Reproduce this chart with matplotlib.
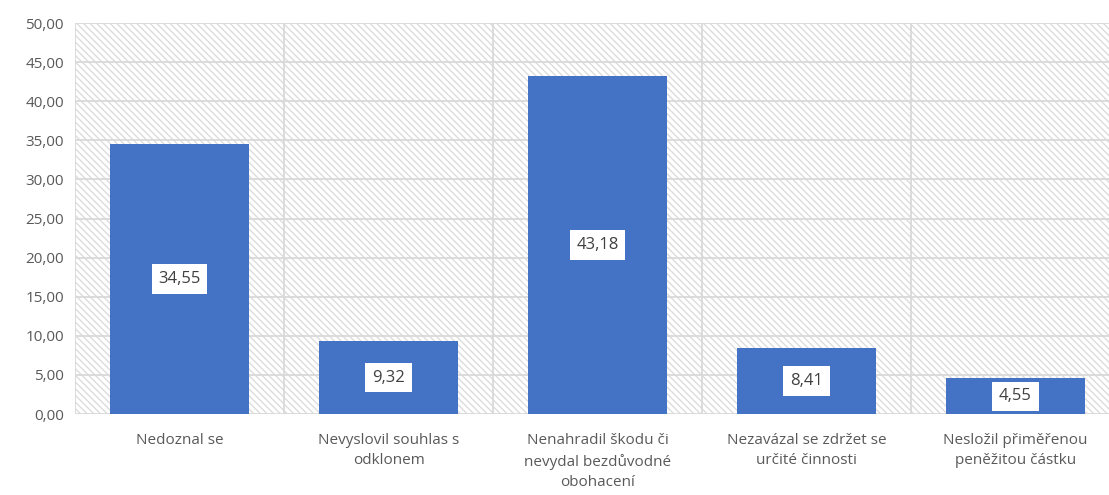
import matplotlib.pyplot as plt
from matplotlib.patches import Rectangle
import numpy as np

plt.rcParams['font.family'] = ['Open Sans', 'DejaVu Sans']
plt.rcParams['hatch.color'] = '#d9d9d9'
plt.rcParams['hatch.linewidth'] = 1.0

# data
categories = ['Nedoznal se', 'Nevyslovil souhlas s\nodklonem',
              'Nenahradil škodu či\nnevydal bezdůvodné\nobohacení',
              'Nezavázal se zdržet se\nurčité činnosti',
              'Nesložil přiměřenou\npeněžitou částku']
values = [34.55, 9.32, 43.18, 8.41, 4.55]
yticks = [0, 5, 10, 15, 20, 25, 30, 35, 40, 45, 50]

fig = plt.figure(figsize=(11.09, 4.95), dpi=100)
W, H = 1109, 495
left, right, top, bottom = 75, 1120, 23, 414
ax = fig.add_axes([left / W, (H - bottom) / H, (right - left) / W, (bottom - top) / H])

x = np.arange(len(categories))
ax.set_xlim(-0.5, len(categories) - 0.5)
ax.set_ylim(0, 50)

# hatched background
ax.add_patch(Rectangle((0, 0), 1, 1, transform=ax.transAxes, facecolor='white',
                       hatch='\\\\\\\\\\', edgecolor='#dcdcdc', linewidth=0, zorder=0))

for y in yticks:
    ax.axhline(y, color='#d9d9d9', linewidth=1.3, zorder=1)
for b in np.arange(-0.5, len(categories), 1.0):
    ax.axvline(b, color='#d9d9d9', linewidth=1.3, zorder=1)

ax.bar(x, values, width=0.665, color='#4472C4', zorder=2)

for xi, v in zip(x, values):
    ax.text(xi, v / 2, f'{v:.2f}'.replace('.', ','), ha='center', va='center',
            fontsize=12, color='#404040', zorder=3,
            bbox=dict(boxstyle='square,pad=0.4', facecolor='white', edgecolor='none'))

ax.set_yticks(yticks)
ax.set_yticklabels([f'{t:.2f}'.replace('.', ',') for t in yticks], fontsize=11, color='#595959')
ax.set_xticks(x)
ax.set_xticklabels(categories, fontsize=11, color='#595959', linespacing=1.45, va='top')
ax.tick_params(axis='both', length=0)
ax.tick_params(axis='x', pad=14)
ax.tick_params(axis='y', pad=8)
for s in ax.spines.values():
    s.set_visible(False)

fig.savefig('out.png', dpi=100)
